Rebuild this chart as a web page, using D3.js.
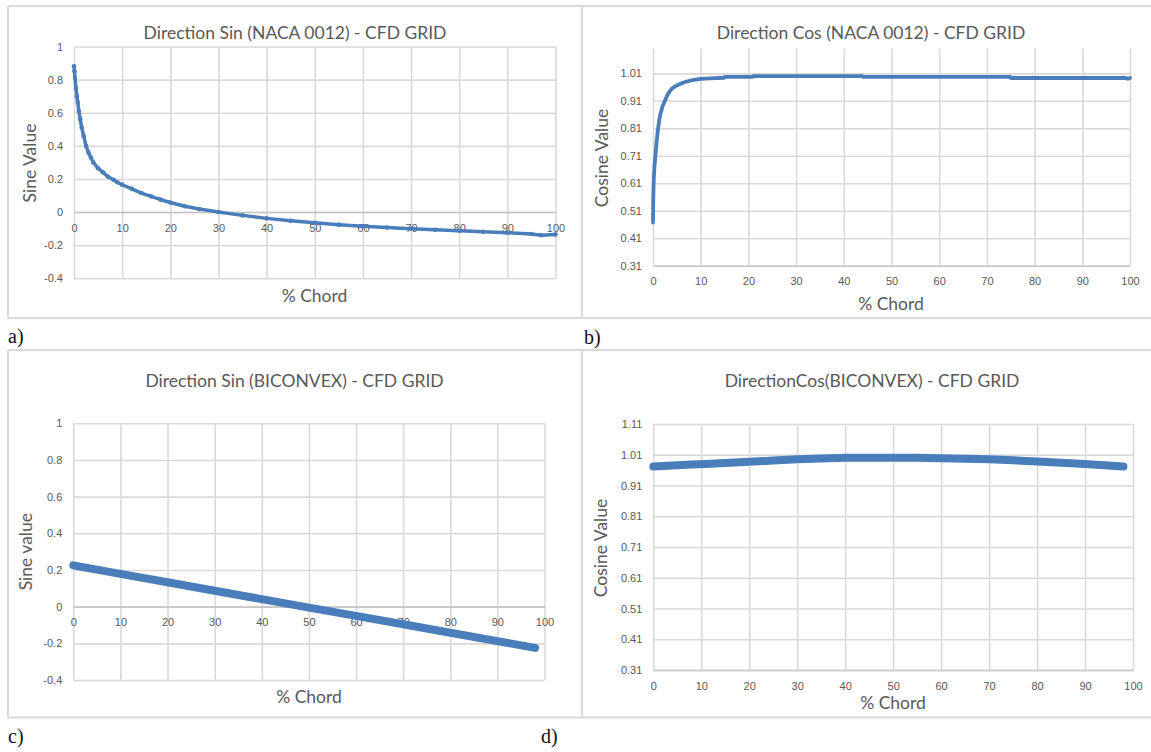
<!DOCTYPE html>
<html>

<head>
    <meta charset="utf-8" />
    <script src="https://cdn.jsdelivr.net/npm/d3@7"></script>
    <title>direction sin / cos</title>
    <style>
        html,
        body {
            margin: 0;
            padding: 0;
            background: #fff;
        }

        svg {
            display: block;
            font-family: Lato, 'Open Sans', sans-serif;
        }

        .lbl {
            font-family: 'Liberation Serif', 'DejaVu Serif', serif;
            font-size: 20px;
            fill: #111;
        }
    </style>
</head>

<body>
    <svg id="fig" width="1151" height="752"></svg>
    <script>
        // --- data ---
        var chordTicks = [0, 10, 20, 30, 40, 50, 60, 70, 80, 90, 100];
        var sinTicks = [-0.4, -0.2, 0, 0.2, 0.4, 0.6, 0.8, 1];
        var cosTicksNaca = [0.31, 0.41, 0.51, 0.61, 0.71, 0.81, 0.91, 1.01];
        var cosTicksBicon = [0.31, 0.41, 0.51, 0.61, 0.71, 0.81, 0.91, 1.01, 1.11];

        var titles = [
            'Direction Sin (NACA 0012) - CFD GRID',
            'Direction Cos (NACA 0012) - CFD GRID',
            'Direction Sin (BICONVEX) - CFD GRID',
            'DirectionCos(BICONVEX) - CFD GRID'
        ];
        var yTitles = ['Sine Value', 'Cosine Value', 'Sine value', 'Cosine Value'];
        var panelLabels = ['a)', 'b)', 'c)', 'd)'];

        var nacaSinX = [0, 0.1, 0.2, 0.4, 0.6, 0.8, 1.0, 1.3, 1.6, 2.0, 2.5, 3.0, 3.5, 4, 5, 6, 7, 8.2, 9, 10,
            12, 14, 16, 18, 20, 23, 26, 30, 35, 40, 45, 50, 55, 60, 65, 70, 75, 80, 85, 90, 95, 97, 100];
        var nacaSinY = [0.88, 0.85, 0.81, 0.75, 0.70, 0.66, 0.61, 0.56, 0.51, 0.46, 0.40, 0.36, 0.33, 0.30, 0.265,
            0.24, 0.215, 0.195, 0.18, 0.165, 0.14, 0.115, 0.095, 0.075, 0.058, 0.035, 0.018, 0.0, -0.02, -0.038,
            -0.053, -0.065, -0.076, -0.085, -0.093, -0.1, -0.107, -0.113, -0.119, -0.125, -0.132, -0.14, -0.135];

        var nacaCosX = [0, 0.05, 0.15, 0.3, 0.5, 0.7, 1.0, 1.3, 1.6, 2.0, 2.5, 3, 3.5, 4, 5, 6, 7, 8, 10, 12,
            14.9, 15, 20.9, 21, 43.9, 44, 74.9, 75, 99, 99.5, 100];
        var nacaCosY = [0.467, 0.55, 0.62, 0.67, 0.71, 0.75, 0.80, 0.84, 0.865, 0.89, 0.91, 0.93, 0.945, 0.955,
            0.966, 0.974, 0.98, 0.984, 0.99, 0.992, 0.994, 0.997, 0.997, 1.0, 1.0, 0.997, 0.997, 0.993, 0.993,
            0.99, 0.993];

        var biconSinX = [0, 10, 20, 30, 40, 50, 60, 70, 80, 90, 98];
        var biconSinY = [0.225, 0.179, 0.133, 0.087, 0.041, -0.005, -0.05, -0.096, -0.142, -0.188, -0.225];

        var biconCosX = [0, 4, 8, 12, 16, 20, 25, 30, 35, 40, 45, 50, 55, 60, 65, 70, 75, 80, 85, 90, 94, 98];
        var biconCosY = [0.972, 0.975, 0.978, 0.981, 0.984, 0.987, 0.991, 0.995, 0.998, 1.0, 1.0, 1.0, 1.0,
            0.999, 0.997, 0.995, 0.992, 0.988, 0.984, 0.98, 0.976, 0.972];

        var textGray = '#595959';
        var gridColor = '#d9d9d9';
        var axisColor = '#c6c6c6';
        var blue = '#4a7ebb';

        var svg = d3.select('#fig');

        function zip(xs, ys) {
            return xs.map(function (x, i) {
                return [x, ys[i]];
            });
        }

        // frame lines of the figure table
        var frame = svg.append('g').attr('stroke', gridColor).attr('stroke-width', 2).attr('fill', 'none');
        [6, 318, 350, 717.5].forEach(function (yy) {
            frame.append('line').attr('x1', 8).attr('x2', 1151).attr('y1', yy).attr('y2', yy);
        });
        [8, 582].forEach(function (xx) {
            frame.append('line').attr('x1', xx).attr('x2', xx).attr('y1', 6).attr('y2', 318);
            frame.append('line').attr('x1', xx).attr('x2', xx).attr('y1', 350).attr('y2', 717.5);
        });

        var panels = [{
            data: zip(nacaSinX, nacaSinY),
            left: 74, right: 555.5, bottom: 278.3, top: 46.5,
            yDomain: [-0.4, 1], yTicks: sinTicks, fmt: function (d) { return String(d); },
            xAxisAt: 0, topLine: true,
            title: [295, 32.5], yTitle: [29, 163], xTitle: [314.5, 295],
            lineWidth: 3.5, dots: 2.3, label: [8, 343]
        }, {
            data: zip(nacaCosX, nacaCosY),
            left: 653, right: 1130, bottom: 265.7, top: 48.6,
            yDomain: [0.31, 1.1], yTicks: cosTicksNaca, fmt: d3.format('.2f'),
            xAxisAt: 0.31, topLine: false,
            title: [871, 32.5], yTitle: [601, 158], xTitle: [891, 303],
            lineWidth: 3.8, dots: 0, label: [584, 344]
        }, {
            data: zip(biconSinX, biconSinY),
            left: 73.3, right: 544.5, bottom: 680, top: 423.3,
            yDomain: [-0.4, 1], yTicks: sinTicks, fmt: function (d) { return String(d); },
            xAxisAt: 0, topLine: true,
            title: [294.5, 380.7], yTitle: [25, 551.7], xTitle: [309, 696.7],
            lineWidth: 8, dots: 0, label: [8, 743]
        }, {
            data: zip(biconCosX, biconCosY),
            left: 653.3, right: 1133, bottom: 670, top: 424,
            yDomain: [0.31, 1.11], yTicks: cosTicksBicon, fmt: d3.format('.2f'),
            xAxisAt: 0.31, topLine: true,
            title: [872, 380.7], yTitle: [600, 548], xTitle: [893, 702.3],
            lineWidth: 8, dots: 0, label: [541, 743]
        }];

        panels.forEach(function (p, i) {
            var x = d3.scaleLinear().domain([0, 100]).range([p.left, p.right]);
            var y = d3.scaleLinear().domain(p.yDomain).range([p.bottom, p.top]);
            var g = svg.append('g');

            // horizontal grid + y labels
            var yAxis = g.append('g')
                .attr('transform', 'translate(' + p.left + ',0)')
                .call(d3.axisLeft(y).tickValues(p.yTicks).tickFormat(p.fmt)
                    .tickSize(-(p.right - p.left)).tickPadding(11));
            yAxis.select('.domain').remove();
            yAxis.selectAll('line').attr('stroke', gridColor).attr('stroke-width', 1.6);
            yAxis.selectAll('text').attr('fill', textGray).attr('font-size', 11);

            // vertical grid
            var xGrid = g.append('g')
                .attr('transform', 'translate(0,' + p.bottom + ')')
                .call(d3.axisBottom(x).tickValues(chordTicks).tickFormat('')
                    .tickSize(-(p.bottom - p.top)));
            xGrid.select('.domain').remove();
            xGrid.selectAll('line').attr('stroke', gridColor).attr('stroke-width', 1.6);

            // horizontal axis with labels
            var xAxis = g.append('g')
                .attr('transform', 'translate(0,' + y(p.xAxisAt) + ')')
                .call(d3.axisBottom(x).tickValues(chordTicks).tickSize(0).tickPadding(12));
            xAxis.select('.domain').attr('stroke', axisColor).attr('stroke-width', 1.6);
            xAxis.selectAll('text').attr('fill', textGray).attr('font-size', 11);

            // series
            var line = d3.line()
                .x(function (d) { return x(d[0]); })
                .y(function (d) { return y(d[1]); });
            g.append('path')
                .datum(p.data)
                .attr('d', line)
                .attr('fill', 'none')
                .attr('stroke', blue)
                .attr('stroke-width', p.lineWidth)
                .attr('stroke-linejoin', 'round')
                .attr('stroke-linecap', 'round');
            if (p.dots) {
                g.selectAll('circle.pt')
                    .data(p.data)
                    .enter().append('circle')
                    .attr('class', 'pt')
                    .attr('cx', function (d) { return x(d[0]); })
                    .attr('cy', function (d) { return y(d[1]); })
                    .attr('r', p.dots)
                    .attr('fill', blue);
            }

            // titles
            g.append('text')
                .attr('x', p.title[0]).attr('y', p.title[1])
                .attr('text-anchor', 'middle').attr('dominant-baseline', 'central')
                .attr('fill', textGray).attr('font-size', 17.5)
                .text(titles[i]);
            g.append('text')
                .attr('transform', 'translate(' + p.yTitle[0] + ',' + p.yTitle[1] + ') rotate(-90)')
                .attr('text-anchor', 'middle').attr('dominant-baseline', 'central')
                .attr('fill', textGray).attr('font-size', 17.5)
                .text(yTitles[i]);
            g.append('text')
                .attr('x', p.xTitle[0]).attr('y', p.xTitle[1])
                .attr('text-anchor', 'middle').attr('dominant-baseline', 'central')
                .attr('fill', textGray).attr('font-size', 17.5)
                .text('% Chord');

            svg.append('text')
                .attr('class', 'lbl')
                .attr('x', p.label[0]).attr('y', p.label[1])
                .text(panelLabels[i]);
        });
    </script>
</body>

</html>
